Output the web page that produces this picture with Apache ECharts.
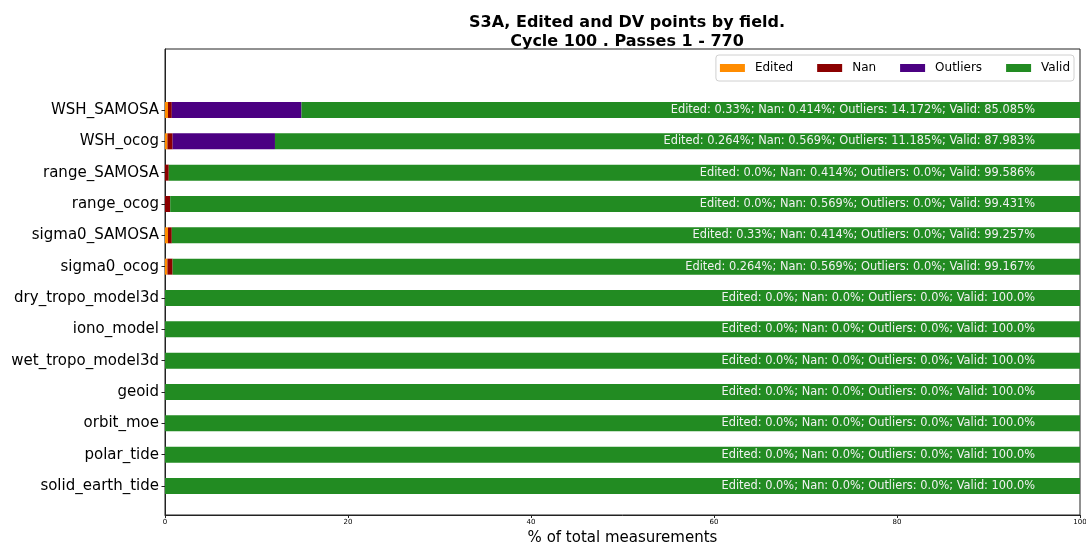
<!DOCTYPE html>
<html>
<head>
<meta charset="utf-8">
<script src="https://cdn.jsdelivr.net/npm/echarts@6/dist/echarts.min.js"></script>
<style>
  html, body { margin: 0; padding: 0; background: #fff; }
  #main { width: 1086px; height: 542px; }
</style>
</head>
<body>
<div id="main"></div>
<script>
// fields, top to bottom as in the plot
var fields = ['WSH_SAMOSA', 'WSH_ocog', 'range_SAMOSA', 'range_ocog', 'sigma0_SAMOSA', 'sigma0_ocog',
    'dry_tropo_model3d', 'iono_model', 'wet_tropo_model3d', 'geoid', 'orbit_moe', 'polar_tide', 'solid_earth_tide'];
var edited   = [0.33, 0.264, 0.0, 0.0, 0.33, 0.264, 0.0, 0.0, 0.0, 0.0, 0.0, 0.0, 0.0];
var nan      = [0.414, 0.569, 0.414, 0.569, 0.414, 0.569, 0.0, 0.0, 0.0, 0.0, 0.0, 0.0, 0.0];
var outliers = [14.172, 11.185, 0.0, 0.0, 0.0, 0.0, 0.0, 0.0, 0.0, 0.0, 0.0, 0.0, 0.0];
var valid    = [85.085, 87.983, 99.586, 99.431, 99.257, 99.167, 100.0, 100.0, 100.0, 100.0, 100.0, 100.0, 100.0];
var xTicks = [0, 20, 40, 60, 80, 100];

var FONT = 'DejaVu Sans';

function fmt(v) {
    // python style float text: 0 -> 0.0, 100 -> 100.0
    return Number.isInteger(v) ? v.toFixed(1) : String(v);
}

function barSeries(name, data, color) {
    return {
        name: name,
        type: 'bar',
        stack: 'total',
        xAxisIndex: 0,
        yAxisIndex: 0,
        barWidth: 16,
        data: data,
        itemStyle: { color: color }
    };
}

var chart = echarts.init(document.getElementById('main'));

var validSeries = barSeries('Valid', valid, '#228b22');
validSeries.label = {
    show: true,
    position: 'insideRight',
    distance: 45,
    color: '#f2f2f2',
    fontFamily: FONT,
    fontSize: 11.4,
    formatter: function (p) {
        var i = p.dataIndex;
        return 'Edited: ' + fmt(edited[i]) + '%; Nan: ' + fmt(nan[i]) +
            '%; Outliers: ' + fmt(outliers[i]) + '%; Valid: ' + fmt(valid[i]) + '%';
    }
};

var option = {
    backgroundColor: '#fff',
    animation: false,
    textStyle: { fontFamily: FONT },
    title: {
        text: 'S3A, Edited and DV points by field.\nCycle 100 . Passes 1 - 770',
        left: 622,
        top: 8,
        textAlign: 'center',
        textStyle: { fontFamily: FONT, fontSize: 16, fontWeight: 'bold', color: '#000', lineHeight: 19 }
    },
    legend: {
        data: ['Edited', 'Nan', 'Outliers', 'Valid'],
        right: 12,
        top: 55,
        itemWidth: 25,
        itemHeight: 8,
        itemGap: 24,
        padding: [7, 4, 7, 4],
        borderColor: '#d0d0d0',
        borderWidth: 1,
        borderRadius: 3,
        icon: 'rect',
        textStyle: { fontFamily: FONT, fontSize: 12, color: '#000', padding: [0, 0, 0, 5] }
    },
    grid: [
        // bars
        { left: 165, right: 6, top: 94.3, bottom: 40.3, outerBoundsMode: 'none' },
        // frame and x ticks
        { left: 165, right: 6, top: 49, bottom: 27, show: true, borderColor: '#222', borderWidth: 1, outerBoundsMode: 'none' }
    ],
    xAxis: [
        { type: 'value', gridIndex: 0, min: 0, max: 100, show: false },
        {
            type: 'value', gridIndex: 1, min: 0, max: 100, interval: 20,
            axisLine: { show: true, lineStyle: { color: '#222' } },
            axisTick: { show: true, length: 3, lineStyle: { color: '#222' } },
            splitLine: { show: false },
            axisLabel: {
                fontFamily: FONT, fontSize: 7, color: '#000', margin: 4,
                formatter: function (v) { return xTicks.indexOf(v) >= 0 ? String(v) : ''; }
            },
            name: '% of total measurements',
            nameLocation: 'middle',
            nameGap: 15,
            nameTextStyle: { fontFamily: FONT, fontSize: 15, color: '#000' }
        }
    ],
    yAxis: [
        {
            type: 'category', gridIndex: 0, data: fields, inverse: true,
            axisLine: { show: false },
            axisTick: { show: true, alignWithLabel: true, length: 3.5, lineStyle: { color: '#222' } },
            axisLabel: { fontFamily: FONT, fontSize: 15, color: '#000', margin: 6 }
        },
        {
            type: 'value', gridIndex: 1, min: 0, max: 1,
            axisLine: { show: true, lineStyle: { color: '#222' } },
            axisTick: { show: false },
            axisLabel: { show: false },
            splitLine: { show: false }
        }
    ],
    series: [
        barSeries('Edited', edited, '#ff8c00'),
        barSeries('Nan', nan, '#8b0000'),
        barSeries('Outliers', outliers, '#4b0082'),
        validSeries
    ]
};

chart.setOption(option);
</script>
</body>
</html>
